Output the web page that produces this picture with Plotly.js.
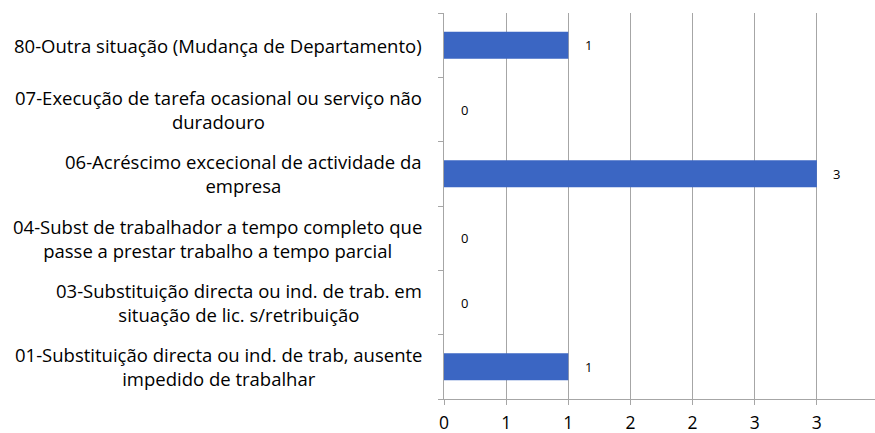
<!DOCTYPE html>
<html><head><meta charset="utf-8">
<script src="https://cdn.plot.ly/plotly-3.0.1.min.js"></script>
<style>html,body{margin:0;padding:0;overflow:hidden;background:#fff}</style>
</head><body><div id="chart"></div>
<script>
const categories = [
  "01-Substituição directa ou ind. de trab, ausente<br>impedido de trabalhar",
  "03-Substituição directa ou ind. de trab. em<br>situação de lic. s/retribuição",
  "04-Subst de trabalhador a tempo completo que<br>passe a prestar trabalho a tempo parcial",
  "06-Acréscimo excecional de actividade da<br>empresa",
  "07-Execução de tarefa ocasional ou serviço não<br>duradouro",
  "80-Outra situação (Mudança de Departamento)"
];
const values = [1, 0, 0, 3, 0, 1];
const tickVals = [0, 0.5, 1, 1.5, 2, 2.5, 3, 3.5];
const tickText = ["0", "1", "1", "2", "2", "3", "3", "4"];

const FONT = "'Open Sans', sans-serif";
const annotations = [];
categories.forEach((c, i) => {
  annotations.push({
    x: 0, xref: 'paper', xanchor: 'right', xshift: -20,
    y: i, yref: 'y', yanchor: 'middle',
    text: c, align: 'center', showarrow: false,
    font: {family: FONT, size: 18.5, color: '#000'}
  });
  annotations.push({
    x: values[i], xref: 'x', xanchor: 'center', xshift: 20,
    y: i, yref: 'y', yanchor: 'middle',
    text: String(values[i]), showarrow: false,
    font: {family: FONT, size: 13, color: '#000'}
  });
});

const trace = {
  type: 'bar', orientation: 'h',
  x: values, y: categories.map((c, i) => i),
  width: 0.42,
  marker: {color: '#3b66c3', line: {width: 0}},
  hoverinfo: 'none'
};

const layout = {
  width: 880, height: 433,
  margin: {l: 444, r: 1, t: 13, b: 34},
  paper_bgcolor: '#fff', plot_bgcolor: '#fff',
  showlegend: false,
  xaxis: {
    range: [0, 3.5], tickvals: tickVals, ticktext: tickText,
    showgrid: true, gridcolor: '#a6a6a6', gridwidth: 1,
    zeroline: false, showline: true, linecolor: '#a6a6a6', linewidth: 1,
    ticks: 'outside', ticklen: 5, tickcolor: '#a6a6a6',
    ticklabelstandoff: 3,
    tickfont: {family: FONT, size: 17.5, color: '#000'}
  },
  yaxis: {
    range: [-0.5, 5.5], tickvals: [-0.5, 0.5, 1.5, 2.5, 3.5, 4.5, 5.5],
    ticktext: ['', '', '', '', '', '', ''],
    showgrid: false, zeroline: false,
    showline: true, linecolor: '#a6a6a6', linewidth: 1,
    ticks: 'outside', ticklen: 5, tickcolor: '#a6a6a6'
  },
  annotations: annotations
};

Plotly.newPlot('chart', [trace], layout, {displayModeBar: false, staticPlot: true});
</script>
</body></html>
